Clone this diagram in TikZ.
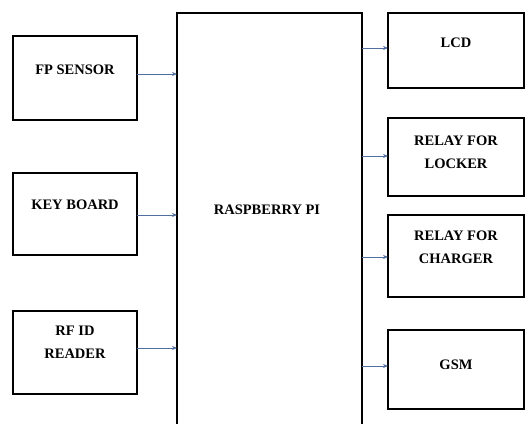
\documentclass[tikz,border=0pt]{standalone}
\usepackage{fontspec}
\setmainfont{Liberation Serif}
\usetikzlibrary{arrows.meta,calc}
\definecolor{arrowblue}{RGB}{80,110,160}
\tikzset{
  blk/.style={draw=black,line width=2pt,inner sep=0pt,outer sep=0pt,rectangle},
  lbl/.style={font=\fontsize{14.5}{23}\selectfont\bfseries,align=center,inner sep=0pt},
  arr/.style={draw=arrowblue,line width=0.8pt,-{Stealth[length=5pt,width=4pt]}}
}
\begin{document}
\begin{tikzpicture}[x=1pt,y=1pt]
\useasboundingbox[fill=white] (0,0) rectangle (526,423);
% left blocks
\node[blk,minimum width=124pt,minimum height=84pt] (fp) at (75,345) {};
\node[lbl] (fpt) at ([yshift=8pt]fp.center) {FP SENSOR};
\node[blk,minimum width=124pt,minimum height=82pt] (kb) at (75,209) {};
\node[lbl] (kbt) at ([yshift=9pt]kb.center) {KEY BOARD};
\node[blk,minimum width=124pt,minimum height=83pt] (rf) at (75,70.5) {};
\node[lbl] (rft) at ([yshift=10pt]rf.center) {RF ID\\READER};
% central block
\node[blk,minimum width=185pt,minimum height=420pt] (rpi) at (269.5,200) {};
\node[lbl] (rpit) at (267,213) {RASPBERRY PI};
% right blocks
\node[blk,minimum width=136pt,minimum height=75pt] (lcd) at (456,372.5) {};
\node[lbl] (lcdt) at ([yshift=8pt]lcd.center) {LCD};
\node[blk,minimum width=136pt,minimum height=78pt] (rl) at (456,266) {};
\node[lbl] (rlt) at ([yshift=5pt]rl.center) {RELAY FOR\\LOCKER};
\node[blk,minimum width=136pt,minimum height=82pt] (rc) at (456,167) {};
\node[lbl] (rct) at ([yshift=9pt]rc.center) {RELAY FOR\\CHARGER};
\node[blk,minimum width=136pt,minimum height=79pt] (gsm) at (456,53.5) {};
\node[lbl] (gsmt) at ([yshift=5pt]gsm.center) {GSM};
% connectors
\draw[arr] ([yshift=4pt]fp.east) -- ([yshift=4pt]fp.east -| rpi.west);
\draw[arr] ([yshift=-1pt]kb.east) -- ([yshift=-1pt]kb.east -| rpi.west);
\draw[arr] ([yshift=4.5pt]rf.east) -- ([yshift=4.5pt]rf.east -| rpi.west);
\draw[arr] ([yshift=2.5pt]lcd.west -| rpi.east) -- ([yshift=2.5pt]lcd.west);
\draw[arr] ([yshift=1pt]rl.west -| rpi.east) -- ([yshift=1pt]rl.west);
\draw[arr] ([yshift=-1pt]rc.west -| rpi.east) -- ([yshift=-1pt]rc.west);
\draw[arr] ([yshift=3.5pt]gsm.west -| rpi.east) -- ([yshift=3.5pt]gsm.west);
\end{tikzpicture}
\end{document}
